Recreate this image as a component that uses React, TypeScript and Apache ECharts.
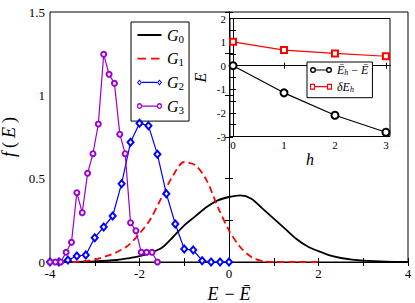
import React, { useEffect, useRef } from 'react';
import * as echarts from 'echarts';

// ---- main panel data ----
const g0X = [-4, -3.5, -3, -2.5, -2.25, -2, -1.75, -1.5, -1.25, -1, -0.75, -0.5, -0.25, 0, 0.25, 0.5, 0.75, 1, 1.25, 1.5, 1.75, 2, 2.25, 2.5, 2.75, 3, 3.5, 4];
const g0Y = [0, 0.001, 0.004, 0.012, 0.022, 0.035, 0.055, 0.085, 0.15, 0.22, 0.275, 0.33, 0.37, 0.39, 0.4, 0.38, 0.32, 0.26, 0.2, 0.14, 0.095, 0.065, 0.04, 0.024, 0.014, 0.008, 0.002, 0];

const g1X = [-3.5, -3.25, -3, -2.75, -2.5, -2.25, -2, -1.75, -1.5, -1.25, -1, -0.75, -0.5, -0.25, 0, 0.25, 0.5, 0.75, 1, 1.5, 2];
const g1Y = [0, 0.005, 0.015, 0.035, 0.06, 0.1, 0.17, 0.26, 0.39, 0.52, 0.6, 0.58, 0.49, 0.33, 0.19, 0.09, 0.03, 0.005, 0, 0, 0];

const g2X = [-4, -3.8, -3.6, -3.4, -3.2, -3, -2.8, -2.6, -2.4, -2.2, -2, -1.8, -1.6, -1.4, -1.2, -1, -0.8, -0.6, -0.4, -0.2, 0];
const g2Y = [0, 0, 0.012, 0.036, 0.042, 0.146, 0.21, 0.276, 0.47, 0.718, 0.832, 0.818, 0.646, 0.41, 0.228, 0.078, 0.072, 0.008, 0, 0, 0];

const g3X = [-4, -3.88, -3.76, -3.64, -3.52, -3.4, -3.28, -3.16, -3.04, -2.92, -2.8, -2.68, -2.56, -2.44, -2.32, -2.2, -2.08, -1.96, -1.84, -1.72, -1.6];
const g3Y = [0, 0, 0, 0.058, 0.118, 0.416, 0.296, 0.532, 0.65, 0.828, 1.246, 1.126, 1.072, 0.767, 0.65, 0.236, 0.188, 0.058, 0.058, 0.058, 0];

// ---- inset data ----
const insetH = [0, 1, 2, 3];
const insetDiff = [0, -1.15, -2.1, -2.82];
const insetDelta = [1.01, 0.66, 0.52, 0.4];

const mainXLabels = [-4, -2, 0, 2, 4];
const mainYLabels = [0, 0.5, 1, 1.5];
const insetXTicks = [0, 1, 2, 3];

const pairs = (xs: number[], ys: number[]) => xs.map((x, i) => [x, ys[i]]);

const SERIF = 'Liberation Serif';

// tiny corner specks fix the icon's bounding box to 25x6
const box25 = 'M0 0 L0.01 0 L0.01 0.01 Z M24.99 5.99 L25 5.99 L25 6 Z ';
const solidIcon = 'path://' + box25 + 'M0.5 2.1 L24.5 2.1 L24.5 3.9 L0.5 3.9 Z';
const dashIcon = 'path://' + box25 + 'M0.5 2.1 L9 2.1 L9 3.9 L0.5 3.9 Z M14 2.1 L22.5 2.1 L22.5 3.9 L14 3.9 Z';
const diamondIcon =
  'path://M0 3 L2.5 0 L5 3 L2.5 6 Z M1.25 3 L2.5 4.5 L3.75 3 L2.5 1.5 Z ' +
  'M5 2.45 L20 2.45 L20 3.55 L5 3.55 Z ' +
  'M20 3 L22.5 0 L25 3 L22.5 6 Z M21.25 3 L22.5 4.5 L23.75 3 L22.5 1.5 Z';
const circleIcon =
  'path://M0 3 A2.5 2.5 0 1 1 5 3 A2.5 2.5 0 1 1 0 3 Z M1.2 3 A1.3 1.3 0 1 0 3.8 3 A1.3 1.3 0 1 0 1.2 3 Z ' +
  'M5 2.45 L20 2.45 L20 3.55 L5 3.55 Z ' +
  'M20 3 A2.5 2.5 0 1 1 25 3 A2.5 2.5 0 1 1 20 3 Z M21.2 3 A1.3 1.3 0 1 0 23.8 3 A1.3 1.3 0 1 0 21.2 3 Z';
const bigCircleIcon =
  'path://M0 3 A3 3 0 1 1 6 3 A3 3 0 1 1 0 3 Z M1.4 3 A1.6 1.6 0 1 0 4.6 3 A1.6 1.6 0 1 0 1.4 3 Z ' +
  'M6 2.4 L16 2.4 L16 3.6 L6 3.6 Z ' +
  'M16 3 A3 3 0 1 1 22 3 A3 3 0 1 1 16 3 Z M17.4 3 A1.6 1.6 0 1 0 20.6 3 A1.6 1.6 0 1 0 17.4 3 Z';
const squareIcon =
  'path://M0 0.5 L5 0.5 L5 5.5 L0 5.5 Z M1.1 1.6 L1.1 4.4 L3.9 4.4 L3.9 1.6 Z ' +
  'M5 2.45 L17 2.45 L17 3.55 L5 3.55 Z ' +
  'M17 0.5 L22 0.5 L22 5.5 L17 5.5 Z M18.1 1.6 L18.1 4.4 L20.9 4.4 L20.9 1.6 Z';

const tickStyle = { show: true, inside: true, length: 4, lineStyle: { color: '#000', width: 1 } };
const lineAxis = { show: true, lineStyle: { color: '#000', width: 1 } };

export default function App() {
  const ref = useRef<HTMLDivElement>(null);
  useEffect(() => {
    if (!ref.current) return;
    const chart = echarts.init(ref.current, null, { renderer: 'svg' });
    const mainX = {
      type: 'value', min: -4, max: 4, interval: 1, gridIndex: 0,
      axisLine: lineAxis, axisTick: tickStyle, splitLine: { show: false },
    };
    const mainY = {
      type: 'value', min: 0, max: 1.5, interval: 0.25, gridIndex: 0,
      axisLine: lineAxis, axisTick: tickStyle, splitLine: { show: false },
    };
    const inX = {
      type: 'value', min: -0.06, max: 3.08, gridIndex: 1,
      axisLine: lineAxis, splitLine: { show: false },
      axisTick: { ...tickStyle, length: 3, customValues: insetXTicks },
    };
    const inY = {
      type: 'value', min: -3, max: 2, interval: 0.5, gridIndex: 1,
      axisLine: lineAxis, splitLine: { show: false },
      axisTick: { ...tickStyle, length: 3 },
    };
    chart.setOption({
      animation: false,
      backgroundColor: '#fff',
      grid: [
        { left: 50, top: 12, width: 358, height: 250, show: true, borderColor: '#000', borderWidth: 1, backgroundColor: 'transparent', containLabel: false, outerBoundsMode: 'none' },
        { left: 230, top: 18.5, width: 160, height: 118, show: true, borderColor: '#000', borderWidth: 1, backgroundColor: '#fff', containLabel: false, outerBoundsMode: 'none' },
      ],
      xAxis: [
        {
          ...mainX, position: 'bottom',
          axisLabel: {
            color: '#000', fontFamily: SERIF, fontSize: 13, margin: 5,
            formatter: (v: number) => (mainXLabels.includes(v) ? String(v) : ''),
          },
          name: '{i|E}{m|−}{i|Ē}', nameLocation: 'middle', nameGap: 17,
          nameTextStyle: {
            lineHeight: 18,
            rich: {
              i: { fontFamily: SERIF, fontStyle: 'italic', fontSize: 18, lineHeight: 18, color: '#000' },
              m: { fontFamily: SERIF, fontSize: 18, lineHeight: 18, color: '#000', padding: [0, 5, 0, 6] },
            },
          },
        },
        { ...mainX, position: 'top', axisLabel: { show: false } },
        {
          ...inX, position: 'bottom',
          axisLabel: { color: '#000', fontFamily: SERIF, fontSize: 11, margin: 3, customValues: insetXTicks },
          name: 'h', nameLocation: 'middle', nameGap: 14,
          nameTextStyle: { fontFamily: SERIF, fontStyle: 'italic', fontSize: 16, color: '#000' },
        },
        { ...inX, position: 'top', axisLabel: { show: false } },
      ],
      yAxis: [
        {
          ...mainY, position: 'left',
          axisLabel: {
            color: '#000', fontFamily: SERIF, fontSize: 13, margin: 5,
            formatter: (v: number) => (mainYLabels.includes(v) ? String(v) : ''),
          },
          name: '{i|f}{r|(}{i|E}{r|)}', nameLocation: 'middle', nameGap: 26,
          nameTextStyle: {
            lineHeight: 18,
            rich: {
              i: { fontFamily: SERIF, fontStyle: 'italic', fontSize: 18, lineHeight: 18, color: '#000', padding: [0, 2] },
              r: { fontFamily: SERIF, fontSize: 18, lineHeight: 18, color: '#000', padding: [0, 2] },
            },
          },
        },
        { ...mainY, position: 'right', axisLabel: { show: false } },
        {
          ...inY, position: 'left',
          axisLabel: {
            color: '#000', fontFamily: SERIF, fontSize: 11, margin: 4,
            formatter: (v: number) => (Number.isInteger(v) ? String(v) : ''),
          },
          name: 'E', nameLocation: 'middle', nameGap: 22,
          nameTextStyle: { fontFamily: SERIF, fontStyle: 'italic', fontSize: 16, lineHeight: 16, color: '#000' },
        },
        { ...inY, position: 'right', axisLabel: { show: false } },
      ],
      legend: [
        {
          orient: 'vertical', left: 131, top: 22, padding: [4, 5, 6, 6], itemGap: 5.7,
          itemWidth: 25, itemHeight: 6, symbolKeepAspect: false,
          borderColor: '#000', borderWidth: 1, backgroundColor: '#fff',
          formatter: (n: string) => `{i|G}{s|${n.slice(1)}}`,
          textStyle: {
            lineHeight: 16,
            rich: {
              i: { fontFamily: SERIF, fontStyle: 'italic', fontSize: 16, color: '#000', lineHeight: 16 },
              s: { fontFamily: SERIF, fontSize: 11, color: '#000', lineHeight: 16, padding: [7, 0, 0, 0] },
            },
          },
          data: [
            { name: 'G0', icon: solidIcon, itemStyle: { color: '#000', borderWidth: 0 } },
            { name: 'G1', icon: dashIcon, itemStyle: { color: '#ff0000', borderWidth: 0 } },
            { name: 'G2', icon: diamondIcon, itemStyle: { color: '#0000ff', borderWidth: 0 } },
            { name: 'G3', icon: circleIcon, itemStyle: { color: '#9b00d3', borderWidth: 0 } },
          ],
        },
        {
          orient: 'vertical', left: 307, top: 62, padding: [1, 4, 4, 3], itemGap: 2.7,
          itemWidth: 22, itemHeight: 6, symbolKeepAspect: false,
          borderColor: '#000', borderWidth: 1, backgroundColor: '#fff',
          formatter: (n: string) => (n === 'diff' ? '{i|Ē}{s|h}{m| − }{i|Ē}' : '{i|δE}{s|h}'),
          textStyle: {
            lineHeight: 14,
            rich: {
              i: { fontFamily: SERIF, fontStyle: 'italic', fontSize: 12, color: '#000', lineHeight: 14 },
              m: { fontFamily: SERIF, fontSize: 12, color: '#000', lineHeight: 14 },
              s: { fontFamily: SERIF, fontStyle: 'italic', fontSize: 8, color: '#000', lineHeight: 14, padding: [5, 0, 0, 0] },
            },
          },
          data: [
            { name: 'diff', icon: bigCircleIcon, itemStyle: { color: '#000', borderWidth: 0 } },
            { name: 'delta', icon: squareIcon, itemStyle: { color: '#ff0000', borderWidth: 0 } },
          ],
        },
      ],
      series: [
        {
          name: 'G0', type: 'line', xAxisIndex: 0, yAxisIndex: 0, data: pairs(g0X, g0Y),
          symbol: 'none', smooth: 0.3, lineStyle: { color: '#000', width: 1.8 }, itemStyle: { color: '#000' }, z: 3,
        },
        {
          name: 'G1', type: 'line', xAxisIndex: 0, yAxisIndex: 0, data: pairs(g1X, g1Y),
          symbol: 'none', smooth: 0.3, lineStyle: { color: '#ff0000', width: 1.8, type: [7, 4] }, itemStyle: { color: '#ff0000' }, z: 3,
        },
        {
          name: 'G2', type: 'line', xAxisIndex: 0, yAxisIndex: 0, data: pairs(g2X, g2Y),
          symbol: 'emptyDiamond', symbolSize: [6, 7], showAllSymbol: true,
          lineStyle: { color: '#0000ff', width: 1.2 }, itemStyle: { color: '#0000ff', borderWidth: 1.2 }, z: 4,
        },
        {
          name: 'G3', type: 'line', xAxisIndex: 0, yAxisIndex: 0, data: pairs(g3X, g3Y),
          symbol: 'emptyCircle', symbolSize: 5, showAllSymbol: true,
          lineStyle: { color: '#9b00d3', width: 1.2 }, itemStyle: { color: '#9b00d3', borderWidth: 1.2 }, z: 4,
        },
        {
          name: 'diff', type: 'line', xAxisIndex: 2, yAxisIndex: 2, data: pairs(insetH, insetDiff),
          symbol: 'emptyCircle', symbolSize: 7,
          lineStyle: { color: '#000', width: 1.2 }, itemStyle: { color: '#000', borderWidth: 1.5 }, z: 5,
        },
        {
          name: 'delta', type: 'line', xAxisIndex: 2, yAxisIndex: 2, data: pairs(insetH, insetDelta),
          symbol: 'emptyRect', symbolSize: 6,
          lineStyle: { color: '#ff0000', width: 1.2 }, itemStyle: { color: '#ff0000', borderWidth: 1.5 }, z: 5,
        },
      ],
    });
    return () => chart.dispose();
  }, []);
  return <div ref={ref} style={{ position: 'fixed', left: 0, top: 0, width: 415, height: 303 }} />;
}
